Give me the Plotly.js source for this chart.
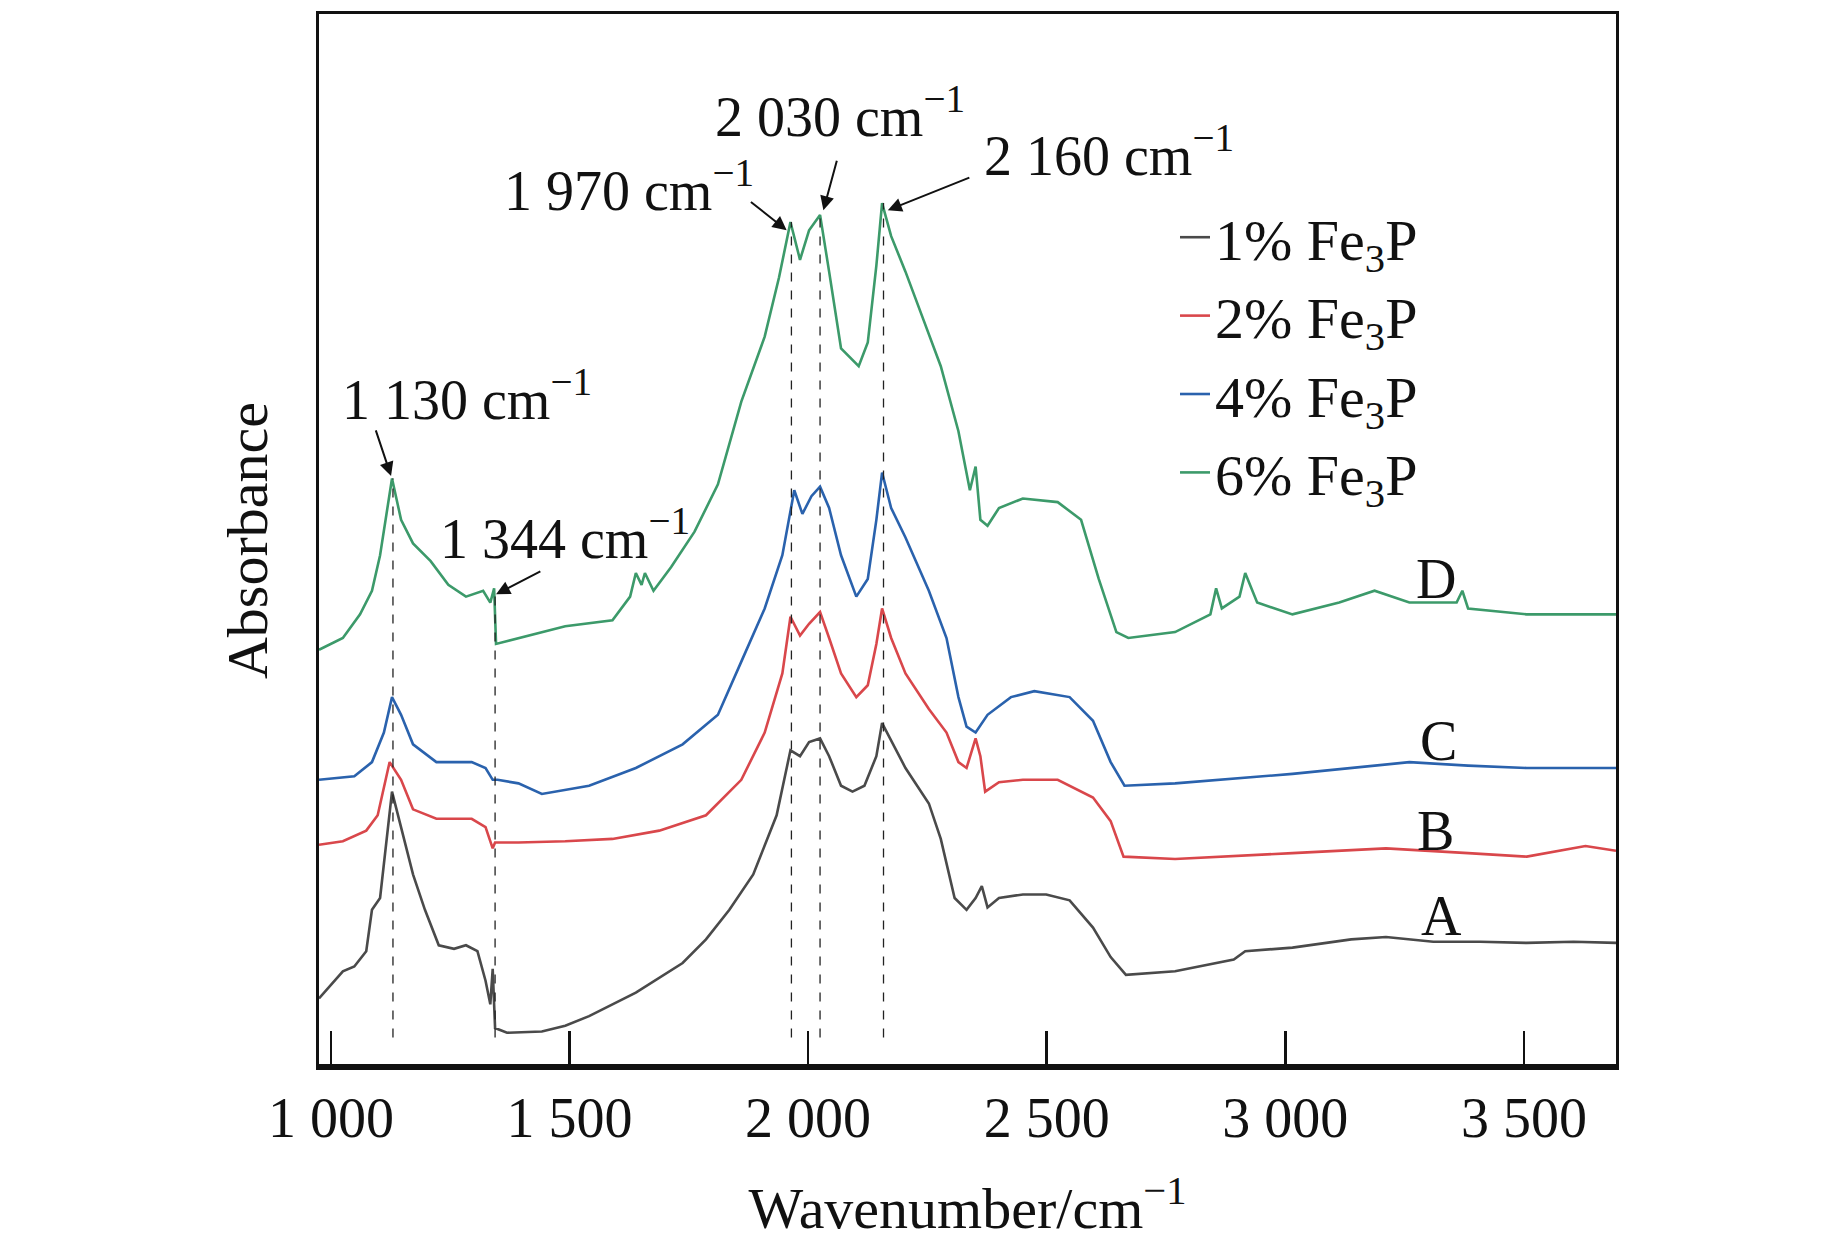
<!DOCTYPE html>
<html>
<head>
<meta charset="utf-8">
<script src="https://cdn.plot.ly/plotly-3.0.1.min.js"></script>
<style>html,body{margin:0;background:#fff}#chart{width:1843px;height:1256px}</style>
</head>
<body>
<div id="chart"></div>
<script>
// FTIR spectra (absorbance in arbitrary units)
const wnA = [975,1025,1049,1074,1086,1103,1128,1147,1172,1197,1226,1258,1283,1307,1324,1334,1339,1344,1369,1442,1491,1541,1639,1737,1786,1835,1885,1934,1963,1983,2002,2025,2044,2069,2093,2118,2143,2155,2179,2204,2253,2278,2307,2332,2351,2364,2376,2400,2450,2499,2548,2597,2634,2666,2769,2892,2916,3015,3138,3211,3310,3408,3506,3604,3693];
const absA = [0.58,0.81,0.85,0.98,1.33,1.43,2.33,2.03,1.63,1.33,1.03,1.00,1.03,0.98,0.73,0.53,0.83,0.33,0.29,0.30,0.35,0.43,0.63,0.88,1.08,1.33,1.63,2.13,2.68,2.63,2.75,2.78,2.63,2.38,2.33,2.38,2.63,2.91,2.73,2.53,2.23,1.93,1.43,1.33,1.43,1.53,1.35,1.43,1.46,1.46,1.41,1.18,0.93,0.78,0.81,0.91,0.98,1.01,1.08,1.10,1.06,1.06,1.05,1.06,1.05];

const wnB = [975,1025,1074,1098,1123,1147,1172,1221,1295,1324,1339,1344,1393,1491,1590,1688,1786,1860,1909,1946,1963,1983,2002,2025,2044,2069,2101,2125,2143,2155,2174,2204,2253,2290,2315,2332,2351,2361,2371,2400,2450,2523,2597,2634,2661,2769,3015,3211,3383,3506,3629,3693];
const absB = [1.88,1.91,2.00,2.13,2.58,2.43,2.18,2.10,2.10,2.03,1.85,1.90,1.90,1.91,1.93,2.00,2.13,2.43,2.83,3.33,3.81,3.65,3.75,3.85,3.63,3.33,3.13,3.23,3.58,3.88,3.63,3.33,3.03,2.83,2.58,2.53,2.78,2.63,2.33,2.41,2.43,2.43,2.28,2.08,1.78,1.76,1.81,1.85,1.81,1.78,1.87,1.83];

const wnC = [975,1049,1086,1111,1128,1147,1172,1221,1295,1324,1339,1349,1393,1442,1541,1639,1737,1811,1860,1909,1946,1971,1988,2007,2025,2044,2069,2101,2125,2143,2155,2174,2204,2253,2290,2315,2332,2351,2376,2425,2474,2548,2597,2634,2663,2769,3015,3260,3383,3506,3693];
const absC = [2.43,2.46,2.58,2.83,3.13,2.98,2.73,2.58,2.58,2.53,2.43,2.43,2.40,2.31,2.38,2.53,2.73,2.98,3.43,3.88,4.33,4.88,4.68,4.83,4.91,4.73,4.33,3.98,4.13,4.63,5.03,4.73,4.48,4.03,3.63,3.13,2.88,2.83,2.98,3.13,3.18,3.13,2.93,2.58,2.38,2.40,2.48,2.58,2.55,2.53,2.53];

const wnD = [975,1025,1061,1086,1103,1128,1147,1172,1209,1246,1283,1319,1334,1342,1346,1393,1442,1491,1590,1627,1639,1651,1658,1676,1713,1762,1811,1860,1909,1939,1963,1983,2002,2025,2044,2069,2106,2125,2143,2155,2174,2204,2241,2278,2315,2339,2351,2361,2376,2400,2450,2523,2572,2609,2646,2671,2769,2843,2855,2867,2904,2916,2941,3015,3113,3187,3260,3359,3371,3383,3506,3693];
const absD = [3.53,3.63,3.83,4.03,4.33,4.98,4.63,4.43,4.28,4.08,3.98,4.03,3.93,4.05,3.58,3.63,3.68,3.73,3.78,3.98,4.18,4.08,4.18,4.03,4.23,4.53,4.93,5.63,6.18,6.68,7.15,6.83,7.08,7.21,6.73,6.08,5.93,6.13,6.78,7.31,7.03,6.73,6.33,5.93,5.38,4.88,5.08,4.63,4.58,4.73,4.81,4.78,4.63,4.13,3.68,3.63,3.68,3.83,4.05,3.88,3.98,4.18,3.93,3.83,3.93,4.03,3.93,3.93,4.03,3.88,3.83,3.83];

const seriesNames = ['1% Fe<sub>3</sub>P', '2% Fe<sub>3</sub>P', '4% Fe<sub>3</sub>P', '6% Fe<sub>3</sub>P'];
const seriesColors = ['#4a4a4a', '#d9474b', '#2a62ad', '#3c9a6a'];
const curveLabels = ['A', 'B', 'C', 'D'];
const labelPos = [[3327, 1.28], [3315, 2.00], [3322, 2.76], [3315, 4.13]];

// marked peaks: wavenumber, top of dashed guide
const peakWn  = [1130, 1344, 1965, 2025, 2158];
const peakTop = [4.98, 4.00, 7.15, 7.21, 7.31];

// peak callouts: text, text pos, arrow tail, arrow tip
const callouts = [
  { text: '1 130 cm<sup>−1</sup>', tx: 1285, ty: 5.68, ax: 1093, ay: 5.40, x: 1126, y: 5.00 },
  { text: '1 344 cm<sup>−1</sup>', tx: 1490, ty: 4.51, ax: 1442, ay: 4.20, x: 1346, y: 4.00 },
  { text: '1 970 cm<sup>−1</sup>', tx: 1625, ty: 7.45, ax: 1877, ay: 7.33, x: 1955, y: 7.08 },
  { text: '2 030 cm<sup>−1</sup>', tx: 2066, ty: 8.08, ax: 2061, ay: 7.68, x: 2032, y: 7.25 },
  { text: '2 160 cm<sup>−1</sup>', tx: 2630, ty: 7.75, ax: 2341, ay: 7.53, x: 2167, y: 7.25 },
];

const FONT = 'Liberation Serif, Times New Roman, serif';
const xs = [wnA, wnB, wnC, wnD];
const ys = [absA, absB, absC, absD];

const traces = xs.map((x, i) => ({
  type: 'scatter', mode: 'lines', x: x, y: ys[i], name: seriesNames[i],
  line: { color: seriesColors[i], width: 2.6 },
}));

const shapes = peakWn.map((w, i) => ({
  type: 'line', xref: 'x', yref: 'y', x0: w, x1: w, y0: 0.25, y1: peakTop[i],
  line: { color: '#222', width: 1.3, dash: 'dash' },
}));

const annotations = [];
callouts.forEach(c => {
  annotations.push({ x: c.tx, y: c.ty, text: c.text, showarrow: false,
    font: { family: FONT, size: 56, color: '#111' } });
  annotations.push({ x: c.x, y: c.y, ax: c.ax, ay: c.ay, axref: 'x', ayref: 'y', text: '',
    showarrow: true, arrowhead: 2, arrowsize: 1.4, arrowwidth: 2, arrowcolor: '#111' });
});
curveLabels.forEach((t, i) => annotations.push({ x: labelPos[i][0], y: labelPos[i][1], text: t,
  showarrow: false, font: { family: FONT, size: 56, color: '#111' } }));

const layout = {
  width: 1843, height: 1256,
  paper_bgcolor: '#fff', plot_bgcolor: '#fff',
  font: { family: FONT, color: '#111', size: 56 },
  margin: { l: 319, r: 227, t: 14, b: 189 },
  showlegend: true,
  legend: { x: 0.66, y: 0.83, xanchor: 'left', yanchor: 'top', bgcolor: 'rgba(0,0,0,0)',
    font: { family: FONT, size: 58, color: '#111' }, tracegroupgap: 0 },
  xaxis: {
    range: [975, 3693], showgrid: false, zeroline: false,
    tickvals: [1000, 1500, 2000, 2500, 3000, 3500],
    ticktext: ['1 000', '1 500', '2 000', '2 500', '3 000', '3 500'],
    ticks: 'inside', ticklen: 36, tickwidth: 2.5, tickcolor: '#111',
    showline: true, linecolor: '#111', linewidth: 3, mirror: true,
    tickfont: { family: FONT, size: 56 },
    title: { text: 'Wavenumber/cm<sup>−1</sup>', font: { family: FONT, size: 58 }, standoff: 40 },
  },
  yaxis: {
    range: [0, 8.91], showgrid: false, zeroline: false, showticklabels: false, ticks: '',
    showline: true, linecolor: '#111', linewidth: 3, mirror: true,
    title: { text: 'Absorbance', font: { family: FONT, size: 58 }, standoff: 30 },
  },
  shapes: shapes.concat([{ type: 'line', xref: 'paper', yref: 'paper', x0: 0, x1: 1, y0: 0, y1: 0,
    line: { color: '#111', width: 6 } }]),
  annotations: annotations,
};

Plotly.newPlot('chart', traces, layout, { displayModeBar: false, staticPlot: true });
</script>
</body>
</html>
